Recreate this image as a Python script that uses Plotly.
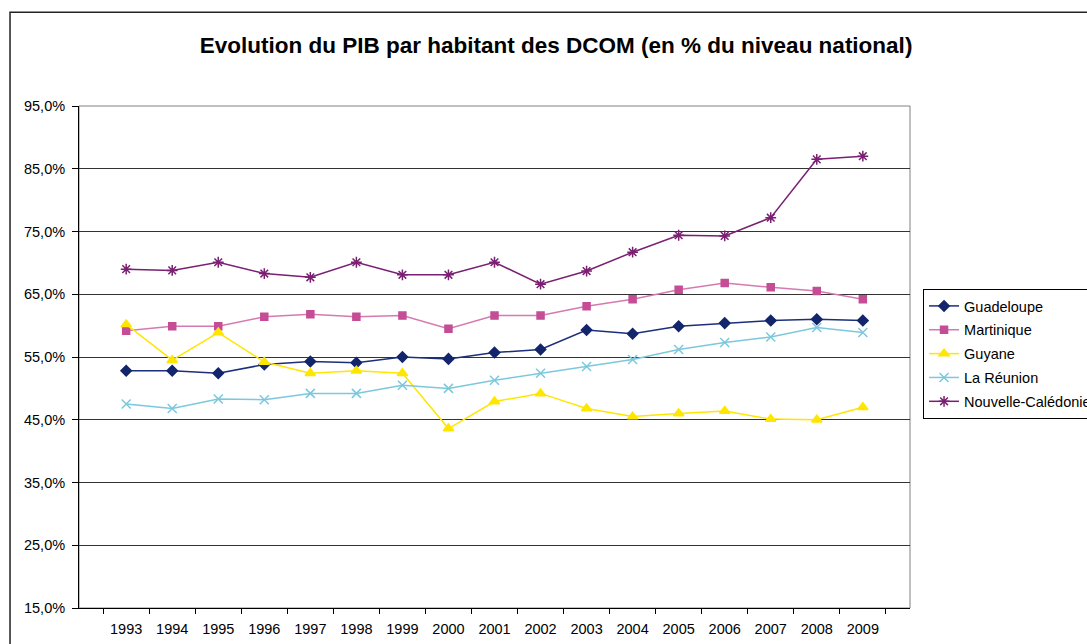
import plotly.graph_objects as go

# données (en % du niveau national)
years = [str(y) for y in range(1993, 2010)]

guadeloupe = [52.8, 52.8, 52.4, 53.8, 54.3, 54.1, 55.0, 54.7, 55.7, 56.2,
              59.3, 58.7, 59.9, 60.4, 60.8, 61.0, 60.8]
martinique = [59.2, 59.9, 59.9, 61.4, 61.8, 61.4, 61.6, 59.5, 61.6, 61.6,
              63.1, 64.2, 65.7, 66.8, 66.1, 65.5, 64.2]
guyane = [60.2, 54.5, 58.9, 54.2, 52.4, 52.8, 52.4, 43.6, 47.9, 49.2,
          46.8, 45.5, 46.0, 46.4, 45.1, 45.0, 47.0]
la_reunion = [47.5, 46.8, 48.3, 48.2, 49.2, 49.2, 50.5, 50.0, 51.3, 52.4,
              53.5, 54.6, 56.2, 57.3, 58.2, 59.7, 58.9]
nouvelle_caledonie = [69.0, 68.8, 70.1, 68.3, 67.7, 70.1, 68.1, 68.1, 70.1, 66.6,
                      68.7, 71.7, 74.4, 74.3, 77.2, 86.5, 87.0]

series = [
    ("Guadeloupe", guadeloupe, "#13256b", "#1b2f7a", "diamond", 8),
    ("Martinique", martinique, "#c44d96", "#d57ab0", "square", 7),
    ("Guyane", guyane, "#ffe600", "#ffe600", "triangle-up", 9),
    ("La Réunion", la_reunion, "#7cc8dc", "#7cc8dc", "x-thin-open", 9),
    ("Nouvelle-Calédonie", nouvelle_caledonie, "#7a1f72", "#7a1f72", "asterisk-open", 9),
]

FONT = "Liberation Sans, Arial, sans-serif"

fig = go.Figure()
for name, vals, mcol, lcol, sym, size in series:
    fig.add_trace(go.Scatter(
        x=years, y=vals, name=name, legendgroup=name,
        mode="lines+markers",
        line=dict(color=lcol, width=1.5),
        marker=dict(symbol=sym, size=size, color=mcol,
                    line=dict(color=mcol, width=1.5)),
    ))

# cadre gris de la zone de tracé + cadre extérieur du graphique
fig.add_shape(type="rect", xref="paper", yref="paper", x0=0, x1=1, y0=0, y1=1,
              line=dict(color="#808080", width=1), layer="below")
fig.add_shape(type="rect", xref="paper", yref="paper", x0=-0.083, x1=1.5, y0=-0.5, y1=1.187,
              line=dict(color="#222222", width=1.5), layer="below")

fig.update_layout(
    width=1087, height=644,
    margin=dict(l=79, r=177, t=106, b=36, autoexpand=False),
    paper_bgcolor="white", plot_bgcolor="white",
    separators=", ",
    font=dict(family=FONT, size=14.5, color="black"),
    title=dict(text="<b>Evolution du PIB par habitant des DCOM (en % du niveau national)</b>",
               x=0.5116, xanchor="center", y=0.930, yanchor="middle",
               font=dict(family=FONT, size=22.5, color="black")),
    legend=dict(x=1.0157, xanchor="left", y=0.6355, yanchor="top",
                bordercolor="black", borderwidth=1, bgcolor="white",
                font=dict(family=FONT, size=14.5), tracegroupgap=2,
                itemwidth=30),
    showlegend=True,
)
fig.update_xaxes(type="category", tickson="boundaries", ticks="outside", ticklen=5,
                 tickcolor="black", showline=True, linecolor="black", linewidth=1,
                 showgrid=False, tickfont=dict(size=14.5), ticklabelstandoff=8)
fig.update_yaxes(range=[15, 95], dtick=10, tick0=15, tickformat=".1f", ticksuffix="%",
                 ticks="outside", ticklen=6, tickcolor="black",
                 showline=True, linecolor="black", linewidth=1,
                 showgrid=True, gridcolor="#333333", gridwidth=1,
                 zeroline=False, tickfont=dict(size=14.5), ticklabelstandoff=4)

fig.write_html("out.html", config={"displayModeBar": False},
               post_script="document.body.style.margin='0';")
